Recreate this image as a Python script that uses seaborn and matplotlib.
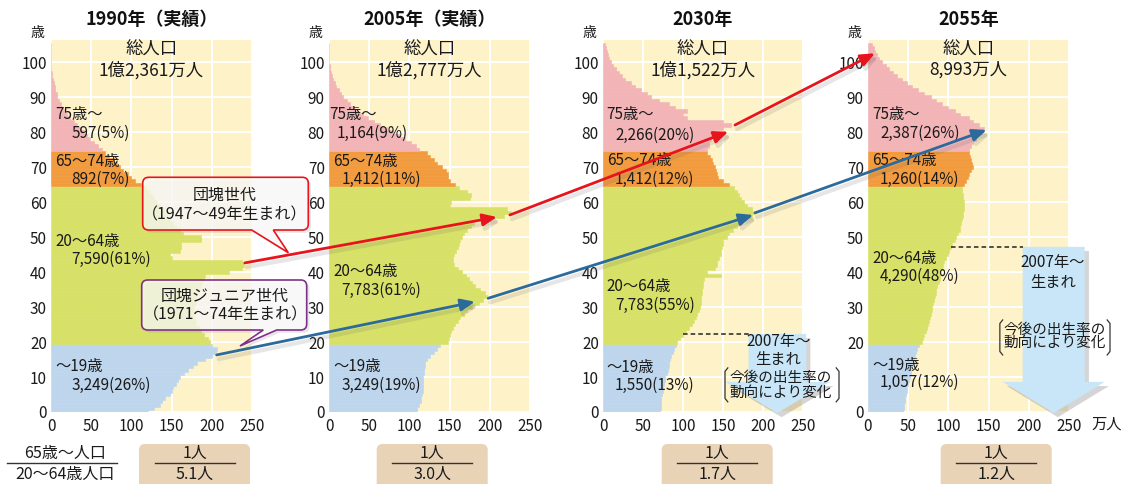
import matplotlib
matplotlib.use("Agg")
import matplotlib.pyplot as plt
import seaborn as sns
import pandas as pd
from matplotlib.path import Path
from matplotlib.patches import PathPatch, Polygon, FancyBboxPatch, ConnectionPatch
from matplotlib.transforms import Affine2D
from matplotlib.lines import Line2D
import matplotlib.patheffects as pe

plt.rcParams['font.family'] = ['Noto Sans CJK JP', 'DejaVu Sans']

# ---------------- data (万人, single year of age) ----------------
ages = list(range(0, 106))
group_names = ['～19歳', '20～64歳', '65～74歳', '75歳～']
group_colors = ['#bdd6ee', '#d7e167', '#f29b3e', '#f2b4b7']

y1990_0_19 = [121, 128, 135, 138, 142, 148, 150, 152, 155, 158, 160, 165, 171, 176, 182, 192, 200, 205, 206, 200]
y1990_20_39 = [198, 195, 190, 186, 184, 180, 180, 178, 178, 178, 178, 180, 180, 182, 183, 185, 186, 188, 190, 192]
y1990_40_64 = [222, 238, 240, 238, 150, 148, 160, 162, 162, 187, 187, 164, 160, 156, 152, 148, 144, 142, 140, 136,
               132, 128, 125, 122, 118]
y1990_65_74 = [112, 105, 100, 96, 90, 86, 82, 78, 72, 67]
y1990_75_up = [63, 58, 53, 49, 45, 41, 37, 32, 28, 24, 20, 17, 14, 12, 10, 8, 7, 5.5, 4.5, 3.5, 2.5, 1.5, 1, 0.6, 0.4,
               0.3, 0, 0, 0, 0, 0]

y2005_0_19 = [109, 110, 112, 114, 115, 116, 117, 117, 117, 117, 117, 118, 118, 119, 120, 122, 126, 130, 134, 138]
y2005_20_39 = [148, 149, 150, 152, 154, 157, 160, 163, 168, 172, 178, 186, 192, 196, 194, 188, 182, 178, 174, 170]
y2005_40_64 = [165, 160, 156, 154, 154, 156, 158, 160, 162, 163, 165, 168, 172, 176, 180, 184, 218, 226, 222, 150,
               152, 175, 177, 172, 162]
y2005_65_74 = [157, 150, 148, 148, 146, 140, 134, 130, 126, 122]
y2005_75_up = [112, 108, 102, 95, 88, 80, 72, 64, 56, 49, 42, 36, 31, 26, 22, 18, 15, 12, 9, 7, 5, 3.5, 2.5, 1.5, 1,
               0.5, 0, 0, 0, 0, 0]

y2030_0_19 = [71, 72, 72, 73, 73, 74, 75, 75, 76, 77, 78, 80, 81, 82, 83, 84, 85, 87, 89, 91]
y2030_20_39 = [92, 96, 100, 104, 108, 111, 114, 116, 118, 120, 121, 122, 123, 123, 124, 124, 125, 125, 126, 148]
y2030_40_64 = [130, 140, 142, 143, 145, 147, 148, 149, 150, 150, 155, 158, 162, 167, 171, 175, 186, 190, 186, 180,
               176, 173, 170, 167, 164]
y2030_65_74 = [157, 150, 144, 142, 141, 140, 138, 136, 134, 130]
y2030_75_up = [130, 132, 133, 135, 136, 138, 150, 160, 150, 105, 100, 105, 90, 82, 70, 60, 55, 48, 40, 35, 28, 24,
               20, 16, 13, 10, 8, 6, 5, 4, 2]

y2055_0_19 = [44, 45, 45, 46, 46, 47, 48, 49, 50, 51, 52, 53, 54, 55, 56, 57, 58, 60, 61, 63]
y2055_20_39 = [67, 68, 70, 72, 73, 75, 76, 77, 78, 79, 80, 81, 82, 83, 84, 85, 86, 88, 89, 90]
y2055_40_64 = [91, 92, 93, 95, 97, 99, 101, 103, 105, 108, 110, 112, 114, 115, 116, 117, 118, 118, 119, 119,
               119, 118, 118, 117, 117]
y2055_65_74 = [120, 122, 124, 126, 128, 130, 129, 128, 127, 126]
y2055_75_up = [125, 128, 130, 134, 137, 142, 144, 138, 130, 125, 115, 108, 100, 92, 85, 78, 70, 62, 55, 48, 42, 36,
               31, 26, 22, 18, 14, 11, 9, 7, 5]

pops = [
    y1990_0_19 + y1990_20_39 + y1990_40_64 + y1990_65_74 + y1990_75_up,
    y2005_0_19 + y2005_20_39 + y2005_40_64 + y2005_65_74 + y2005_75_up,
    y2030_0_19 + y2030_20_39 + y2030_40_64 + y2030_65_74 + y2030_75_up,
    y2055_0_19 + y2055_20_39 + y2055_40_64 + y2055_65_74 + y2055_75_up,
]

titles = ['1990年（実績）', '2005年（実績）', '2030年', '2055年']
totals = ['1億2,361万人', '1億2,777万人', '1億1,522万人', '8,993万人']
lab_0 = ['3,249(26%)', '3,249(19%)', '1,550(13%)', '1,057(12%)']
lab_20 = ['7,590(61%)', '7,783(61%)', '7,783(55%)', '4,290(48%)']
lab_65 = ['892(7%)', '1,412(11%)', '1,412(12%)', '1,260(14%)']
lab_75 = ['597(5%)', '1,164(9%)', '2,266(20%)', '2,387(26%)']
ratio_den = ['5.1人', '3.0人', '1.7人', '1.2人']
xticks = [0, 50, 100, 150, 200, 250]
yticks = list(range(0, 101, 10))

# ---------------- layout ----------------
W, H = 1130, 484
fig = plt.figure(figsize=(W / 100, H / 100), dpi=100)
fig.patch.set_facecolor('white')
PX = Affine2D().scale(1 / W, -1 / H).translate(0, 1) + fig.transFigure

ax_left = [51, 329, 603, 868]
ax_w = [201, 201, 200, 201]
lab_x1 = [5, 0, 4.6, 5.3]
lab_x1b = [5, 5.4, 4.6, 5.3]
lab_x2 = [25.7, 15.8, 15, 15]
lab_x2_75 = [25.7, 9.6, 15, 15]
lab_y75 = [(84.9, 79.6), (84.9, 79.6), (84.9, 79.2), (84.9, 79.6)]
lab_y65 = [(71.5, 66.4), (71.5, 66.4), (72, 66.4), (72, 66.4)]
lab_y20 = [(48.7, 43.5), (40.1, 34.9), (35.8, 30.6), (43.9, 38.7)]
lab_y0 = [(12.9, 7.7), (12.9, 7.5), (12.6, 7.5), (13.3, 8.4)]


def group_of(a):
    if a < 20:
        return group_names[0]
    if a < 65:
        return group_names[1]
    if a < 75:
        return group_names[2]
    return group_names[3]


axes = []
for i in range(4):
    ax = fig.add_axes([ax_left[i] / W, (H - 412) / H, ax_w[i] / W, 372 / H])
    axes.append(ax)
    df = pd.DataFrame({'age': ages, 'pop': pops[i], 'group': [group_of(a) for a in ages]})
    sns.barplot(data=df, x='pop', y='age', hue='group', hue_order=group_names,
                palette=dict(zip(group_names, group_colors)), orient='h', native_scale=True,
                dodge=False, width=1, saturation=1, errorbar=None, legend=False,
                linewidth=0, ax=ax)
    for p in ax.patches:
        p.set_edgecolor(p.get_facecolor())
        p.set_linewidth(0.4)
    ax.set_xlim(0, 250)
    ax.set_ylim(0, 106.3)
    ax.set_facecolor('#fef2c8')
    ax.set_xticks(xticks)
    ax.set_yticks(yticks)
    ax.set_xticklabels([str(t) for t in xticks])
    ylabels = [str(t) for t in yticks]
    if i == 3:
        ylabels[1] = ''
    ax.set_yticklabels(ylabels)
    ax.grid(True, color='white', lw=1.4)
    ax.set_axisbelow(True)
    for s in ax.spines.values():
        s.set_visible(False)
    ax.tick_params(axis='both', length=0, labelsize=11, colors='#1a1a1a')
    ax.tick_params(axis='y', pad=3)
    ax.tick_params(axis='x', pad=4)
    ax.set_xlabel('')
    ax.set_ylabel('')

    ax.text(0.5, 1.054, titles[i], transform=ax.transAxes, ha='center', va='center',
            fontsize=13, fontweight='bold', color='#111111')
    ax.text(-14 / 201, 1 + 7 / 372, '歳', transform=ax.transAxes, ha='center', va='center',
            fontsize=10, color='#1a1a1a')
    ax.text(125, 103.4, '総人口', ha='center', va='center', fontsize=12.5, color='#1a1a1a')
    ax.text(125, 97.7, totals[i], ha='center', va='center', fontsize=12.5, color='#1a1a1a')

    tk = dict(ha='left', va='center', fontsize=11, color='#1a1a1a', zorder=6)
    ax.text(lab_x1[i], lab_y75[i][0], '75歳～', **tk)
    ax.text(lab_x2_75[i], lab_y75[i][1], lab_75[i], **tk)
    ax.text(lab_x1b[i], lab_y65[i][0], '65～74歳', **tk)
    ax.text(lab_x2[i], lab_y65[i][1], lab_65[i], **tk)
    ax.text(lab_x1b[i], lab_y20[i][0], '20～64歳', **tk)
    ax.text(lab_x2[i], lab_y20[i][1], lab_20[i], **tk)
    ax.text(lab_x1b[i], lab_y0[i][0], '～19歳', **tk)
    ax.text(lab_x2[i], lab_y0[i][1], lab_0[i], **tk)

ax1, ax2, ax3, ax4 = axes

# unit label
fig.text(1107, 424, '万人', transform=PX, ha='center', va='center', fontsize=11, color='#1a1a1a')

# ---------------- "2007年～生まれ" arrows ----------------
birth_cfg = [
    (ax3, 218, 36, 65, 22.3, 22, (219, 20.1, 14.9), (222, 9.7, 5.4), (152.5, 295, 12.6, 2.9)),
    (ax4, 231, 38.6, 63.4, 47.2, 47, (230, 42.6, 36.9), (232.6, 23.4, 19.7), (164, 301, 26.3, 16.3)),
]
for k, (ax, cx, hb, hh, top, a_idx, t1, t2, br) in enumerate(birth_cfg):
    pop = pops[2 + k]
    base, tip = 8.6, -0.3
    poly = Polygon([(cx - hb, top), (cx + hb, top), (cx + hb, base), (cx + hh, base), (cx, tip),
                    (cx - hh, base), (cx - hb, base)], closed=True, fc='#c8e6f7', ec='none',
                   clip_on=False, zorder=4,
                   path_effects=[pe.SimplePatchShadow(offset=(3, -3), shadow_rgbFace='#777777', alpha=0.3),
                                 pe.Normal()])
    ax.add_patch(poly)
    ax.plot([pop[a_idx], cx - hb], [top, top], color='#222222', lw=1.1, ls=(0, (3, 2)), zorder=4,
            clip_on=False)
    ax.text(t1[0], t1[1], '2007年～', ha='center', va='center', fontsize=11, color='#1a1a1a', zorder=6)
    ax.text(t1[0], t1[2], '生まれ', ha='center', va='center', fontsize=11, color='#1a1a1a', zorder=6)
    ax.text(t2[0], t2[1], '今後の出生率の', ha='center', va='center', fontsize=10.5, color='#1a1a1a', zorder=6)
    ax.text(t2[0], t2[2], '動向により変化', ha='center', va='center', fontsize=10.5, color='#1a1a1a', zorder=6)
    xl, xr, yt, yb = br
    hk = 3.5
    for xs, sgn in ((xl, 1), (xr, -1)):
        ax.add_line(Line2D([xs + sgn * hk, xs, xs, xs + sgn * hk], [yt, yt - 1.0, yb + 1.0, yb],
                           color='#333333', lw=0.9, clip_on=False, zorder=6))

# ---------------- callout boxes ----------------
M, L, C3, CL = Path.MOVETO, Path.LINETO, Path.CURVE3, Path.CLOSEPOLY


def callout(x0, y0, x1, y1, r, t0, tip, t1):
    verts = [(x0 + r, y0), (x1 - r, y0), (x1, y0), (x1, y0 + r), (x1, y1 - r), (x1, y1), (x1 - r, y1),
             (t1, y1), tip, (t0, y1), (x0 + r, y1), (x0, y1), (x0, y1 - r), (x0, y0 + r), (x0, y0),
             (x0 + r, y0), (x0 + r, y0)]
    codes = [M, L, C3, C3, L, C3, C3, L, L, L, L, C3, C3, L, C3, C3, CL]
    return Path(verts, codes)


red = '#e8141d'
blue = '#2d6a9c'
purple = '#7f3189'
box_shadow = [pe.SimplePatchShadow(offset=(2, -2), shadow_rgbFace='#888888', alpha=0.2), pe.Normal()]
fig.add_artist(PathPatch(callout(142.7, 177.3, 308.3, 230, 6, 251.7, (288.3, 252.7), 273.3),
                         transform=PX, fc=(1, 1, 1, 0.72), ec=red, lw=1.2, zorder=5, path_effects=box_shadow))
fig.add_artist(PathPatch(callout(141.7, 280, 306.7, 330, 6, 263.3, (240, 346), 276.7),
                         transform=PX, fc=(1, 1, 1, 0.72), ec=purple, lw=1.2, zorder=5, path_effects=box_shadow))
ct = dict(transform=PX, ha='center', va='center', fontsize=11.5, color='#1a1a1a', zorder=6)
fig.text(225, 195, '団塊世代', **ct)
fig.text(225, 215, '（1947～49年生まれ）', **ct)
fig.text(225, 296.7, '団塊ジュニア世代', **ct)
fig.text(225, 315, '（1971～74年生まれ）', **ct)

# ---------------- cohort arrows ----------------
arrow_fx = [pe.SimpleLineShadow(offset=(1.5, -3), shadow_color='#666666', alpha=0.16, linewidth=3), pe.Normal()]
red_path = [((241, 42.6), ax1, (209, 55.7), ax2), ((225, 56.3), ax2, (156.6, 80.1), ax3),
            ((165, 82), ax3, (8.7, 102.5), ax4)]
blue_path = [((206, 16.3), ax1, (181.6, 31.5), ax2), ((198, 32.5), ax2, (187.9, 56.3), ax3),
             ((190, 56.9), ax3, (147.6, 80.6), ax4)]
for segs, col in ((red_path, red), (blue_path, blue)):
    for xa, axa, xb, axb in segs:
        con = ConnectionPatch(xyA=xa, coordsA='data', axesA=axa, xyB=xb, coordsB='data', axesB=axb,
                              arrowstyle='-|>,head_length=0.85,head_width=0.36', mutation_scale=10,
                              color=col, lw=2, shrinkA=0, shrinkB=0, zorder=7, path_effects=arrow_fx)
        fig.add_artist(con)

# ---------------- dependency ratio row ----------------
rt = dict(transform=PX, ha='center', va='center', fontsize=11.5, color='#1a1a1a')
fig.text(65, 453, '65歳～人口', **rt)
fig.text(65, 474, '20～64歳人口', **rt)
fig.add_artist(Line2D([7, 117], [463, 463], transform=PX, color='#333333', lw=1))
box_x = [139, 376.7, 661.7, 940.7]
for i in range(4):
    fig.add_artist(FancyBboxPatch((box_x[i], 444), 111, 50, boxstyle='round,pad=0,rounding_size=6',
                                  transform=PX, fc='#e9d3b7', ec='none', zorder=1))
    cxb = box_x[i] + 55.5
    fig.text(cxb, 453, '1人', zorder=2, **rt)
    fig.text(cxb, 474, ratio_den[i], zorder=2, **rt)
    fig.add_artist(Line2D([cxb - 40, cxb + 40], [463, 463], transform=PX, color='#333333', lw=1, zorder=2))

fig.savefig('out.png', dpi=100)
